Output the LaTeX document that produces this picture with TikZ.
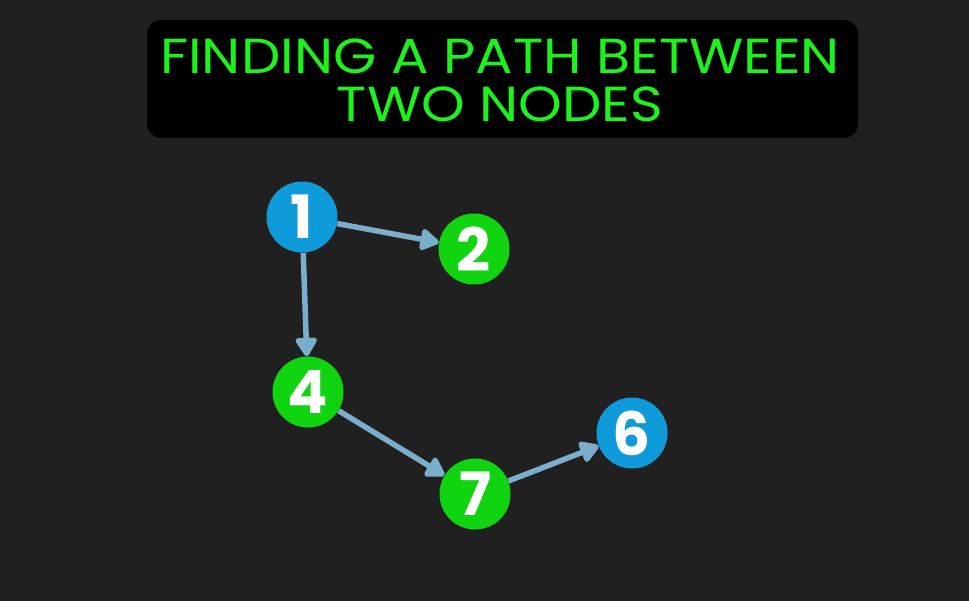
\documentclass[tikz,border=0pt]{standalone}
\usepackage{fontspec}
\setmainfont{Poppins}
\usepackage{tikz}
\usetikzlibrary{
    arrows.meta,
    positioning
}
\definecolor{bgdark}{HTML}{202020}
\definecolor{titlegreen}{HTML}{1CF21C}
\definecolor{nodeblue}{HTML}{0F9AD9}
\definecolor{nodegreen}{HTML}{10D410}
\definecolor{edgeblue}{HTML}{7AAECB}
\tikzstyle{vertex} = [
    circle,
    minimum size=1.42cm,
    inner sep=0pt,
    text=white,
    font=\fontsize{34}{34}\selectfont\bfseries
]
\tikzstyle{endpoint} = [
    vertex,
    fill=nodeblue
]
\tikzstyle{visited} = [
    vertex,
    fill=nodegreen
]
\tikzstyle{arrow} = [
    -{Triangle[round,length=0.42cm,width=0.48cm]},
    line width=0.11cm,
    draw=edgeblue
]

\begin{document}
\begin{tikzpicture}[node distance=1cm, on grid]
        % Background
        \fill[bgdark] (0,0) rectangle (19.38,-12.02);
        \useasboundingbox (0,0) rectangle (19.38,-12.02);

        % Title
        \node[rectangle, rounded corners=0.28cm, fill=black,
              minimum width=14.22cm, minimum height=2.36cm] (titlebox) at (10.05,-1.58) {};
        \node[text=titlegreen, align=center, xscale=1.13,
              font=\fontsize{28}{27.4}\selectfont] (title) at (10.0,-1.6) {
            FINDING A PATH BETWEEN\\
            TWO NODES
        };

        % Nodes
        \node[endpoint] (n1) at (6.04,-4.34) {1};
        \node[visited, below right=0.64cm and 3.44cm of n1] (n2) {2};
        \node[visited, below right=3.5cm and 0.12cm of n1] (n4) {4};
        \node[visited, below right=2.04cm and 3.34cm of n4] (n7) {7};
        \node[endpoint, above right=1.22cm and 3.14cm of n7] (n6) {6};

        % Arrows
        \draw[arrow] (n1) -- (n2);
        \draw[arrow] (n1) -- (n4);
        \draw[arrow] (n4) -- (n7);
        \draw[arrow] (n7) -- (n6);
    \end{tikzpicture}
\end{document}
